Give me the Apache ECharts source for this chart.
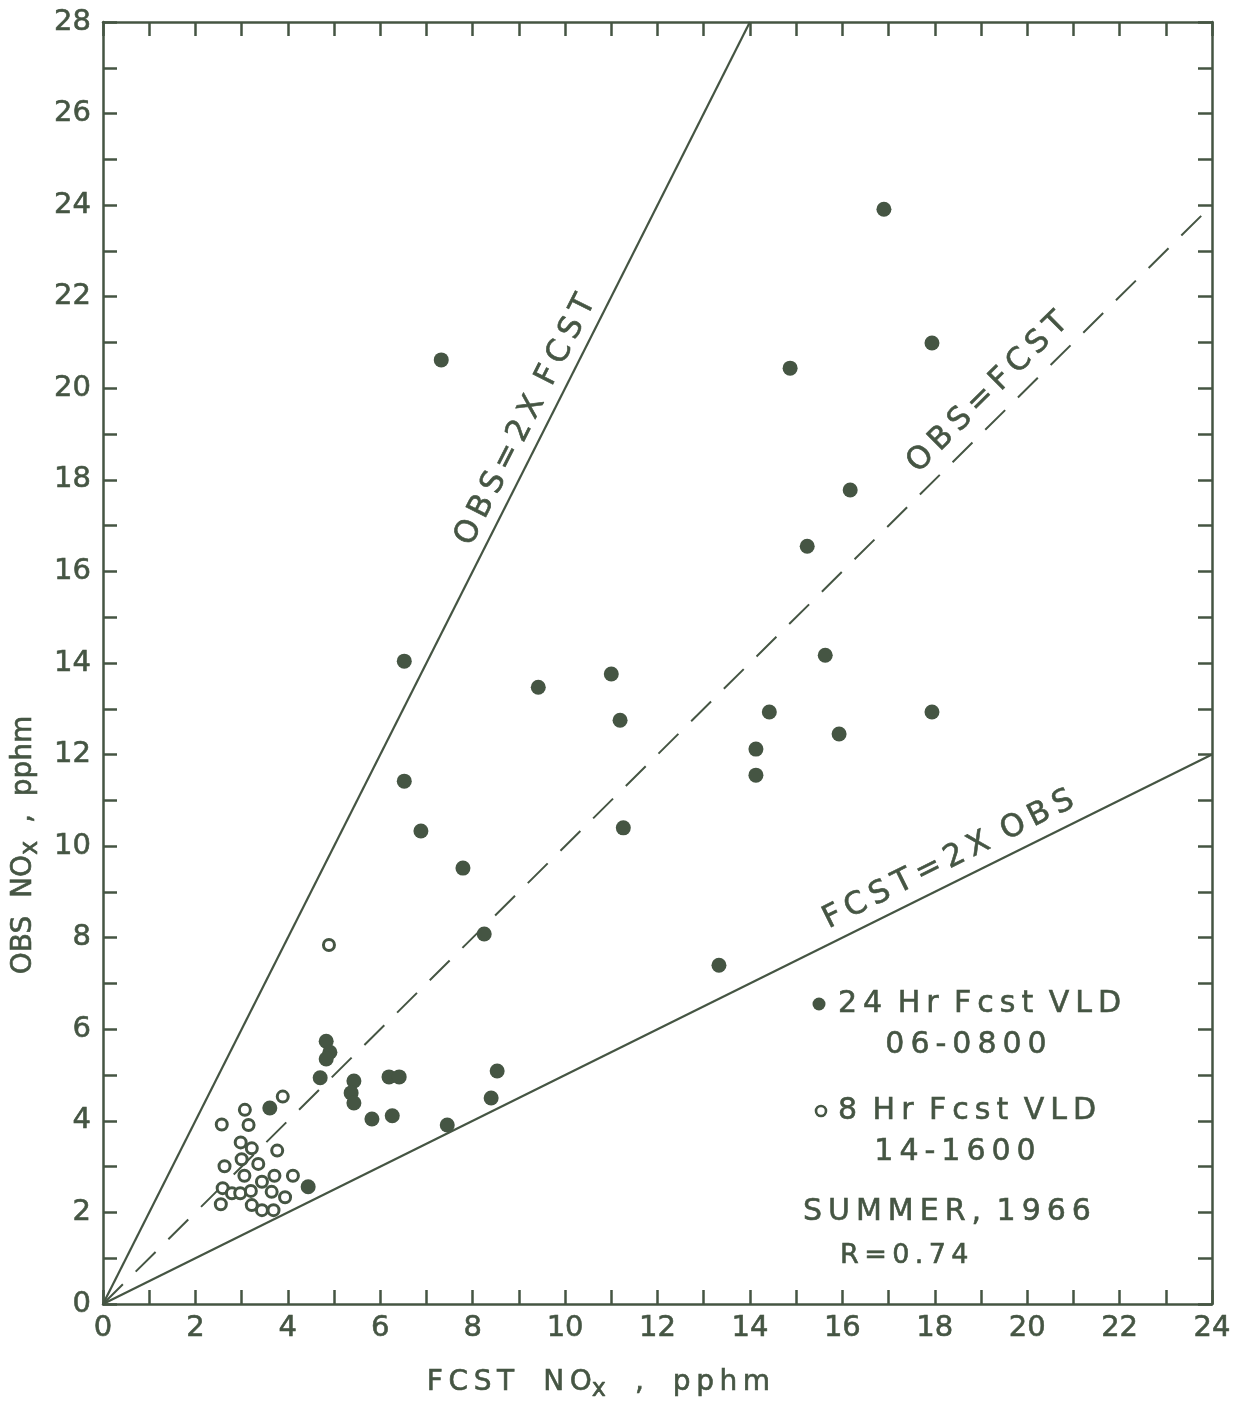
<!DOCTYPE html>
<html>
<head>
<meta charset="utf-8">
<script src="https://cdn.jsdelivr.net/npm/echarts@6/dist/echarts.min.js"></script>
<style>
  html, body { margin: 0; background: #fff; }
  #main { width: 1248px; height: 1402px; }
</style>
</head>
<body>
<div id="main"></div>
<script>
// 24 hr forecast (filled dots)
var fcst24 = [16.9, 7.32, 17.94, 14.87, 16.17, 15.24, 6.52, 15.63, 9.42, 11.0, 11.19, 14.42, 17.94, 14.13, 15.93, 14.13,
              6.52, 6.88, 11.26, 7.79, 8.25, 13.33, 4.83, 4.91, 4.83, 4.70, 5.43, 5.37, 5.43, 6.19, 6.41, 5.82, 6.26,
              8.53, 8.40, 7.45, 3.61, 4.44];
var obs24 = [23.91, 20.62, 20.99, 20.44, 17.78, 16.55, 14.04, 14.17, 13.47, 13.76, 12.75, 12.93, 12.93, 12.12, 12.45, 11.55,
             11.42, 10.33, 10.40, 9.52, 8.08, 7.40, 5.74, 5.50, 5.35, 4.94, 4.87, 4.61, 4.39, 4.96, 4.96, 4.04, 4.11,
             5.09, 4.50, 3.91, 4.28, 2.56];
// 8 hr forecast (open circles)
var fcst8 = [3.89, 3.07, 2.57, 3.15, 2.98, 3.22, 3.77, 3.00, 3.36, 2.63, 3.06, 3.71, 4.11, 3.44, 2.59, 2.79, 2.97,
             3.20, 3.65, 3.94, 2.55, 3.22, 3.44, 3.69, 4.89];
var obs8 = [4.53, 4.24, 3.92, 3.91, 3.53, 3.40, 3.35, 3.16, 3.06, 3.01, 2.80, 2.80, 2.80, 2.67, 2.53, 2.42, 2.42,
            2.47, 2.45, 2.33, 2.18, 2.16, 2.05, 2.05, 7.84];
// reference lines through origin
var line2xFcst = [[0, 0], [14, 28]];
var lineEqual = [[0, 0], [24, 24]];
var line2xObs = [[0, 0], [24, 12]];

var ink = '#455543';
var font = 'DejaVu Sans';

function zip(a, b) {
    var out = [];
    for (var i = 0; i < a.length; i++) out.push([a[i], b[i]]);
    return out;
}
// wide lettering: thin spaces between letters, wider gaps between words
function track(s) {
    return s.split(' ').map(function (w) { return w.split('').join('\u2009'); }).join('\u2009 ');
}

var myChart = echarts.init(document.getElementById('main'));

var tickStyle = { show: true, inside: true, length: 14, lineStyle: { color: ink, width: 2.5 } };
var lineStyle = { show: true, onZero: false, lineStyle: { color: ink, width: 2.5 } };
function nameRich(size) {
    return {
        n: { fontFamily: font, fontSize: size, color: ink, textBorderColor: ink, textBorderWidth: 0.6 },
        s: { fontFamily: font, fontSize: size - 4, color: ink, textBorderColor: ink, textBorderWidth: 0.6, padding: [14, 0, 0, 0] }
    };
}
var labelStyle = {
    color: ink, fontFamily: font, fontSize: 29, textBorderColor: ink, textBorderWidth: 0.6,
    formatter: function (v) { return v % 2 === 0 ? String(v) : ''; }
};

var option = {
    backgroundColor: '#ffffff',
    animation: false,
    grid: { left: 103, right: 36, top: 22, bottom: 98, outerBoundsMode: 'none', containLabel: false },
    xAxis: [{
        type: 'value', min: 0, max: 24, interval: 1, position: 'bottom',
        axisLine: lineStyle, axisTick: tickStyle, splitLine: { show: false },
        axisLabel: Object.assign({ margin: 10 }, labelStyle),
        name: '{n|' + track('FCST  NO') + '}{s|x}{n|' + track('  ,  pphm') + '}',
        nameLocation: 'middle', nameGap: 60,
        nameTextStyle: { rich: nameRich(28), padding: [0, 118, 0, 0] }
    }, {
        type: 'value', min: 0, max: 24, interval: 1, position: 'top',
        axisLine: lineStyle, axisTick: tickStyle, splitLine: { show: false },
        axisLabel: { show: false }
    }],
    yAxis: [{
        type: 'value', min: 0, max: 28, interval: 1, position: 'left',
        axisLine: lineStyle, axisTick: tickStyle, splitLine: { show: false },
        axisLabel: Object.assign({ margin: 12 }, labelStyle),
        name: '{n|OBS  NO}{s|x}{n|  ,  pphm}',
        nameLocation: 'middle', nameGap: 60,
        nameTextStyle: { rich: nameRich(28), padding: [0, 364, 0, 0] }
    }, {
        type: 'value', min: 0, max: 28, interval: 1, position: 'right',
        axisLine: lineStyle, axisTick: tickStyle, splitLine: { show: false },
        axisLabel: { show: false }
    }],
    series: [{
        name: 'OBS=2X FCST', type: 'line', data: line2xFcst, symbol: 'none',
        lineStyle: { color: ink, width: 2.2 }, z: 2
    }, {
        name: 'OBS=FCST', type: 'line', data: lineEqual, symbol: 'none',
        lineStyle: { color: ink, width: 2, type: [28, 18] }, z: 2
    }, {
        name: 'FCST=2X OBS', type: 'line', data: line2xObs, symbol: 'none',
        lineStyle: { color: ink, width: 2.2 }, z: 2
    }, {
        name: '24 Hr Fcst VLD 06-0800', type: 'scatter', data: zip(fcst24, obs24),
        symbol: 'circle', symbolSize: 15, itemStyle: { color: ink, opacity: 1 }, z: 3
    }, {
        name: '8 Hr Fcst VLD 14-1600', type: 'scatter', data: zip(fcst8, obs8),
        symbol: 'circle', symbolSize: 11,
        itemStyle: { color: '#ffffff', borderColor: ink, borderWidth: 3, opacity: 1 }, z: 3
    }]
};
myChart.setOption(option);

// labels along the reference lines and the key text
function px(x, y) { return myChart.convertToPixel({ xAxisIndex: 0, yAxisIndex: 0 }, [x, y]); }
function deg(d) { return d * Math.PI / 180; }
function txt(p, s, rot, size, align) {
    return {
        type: 'text', x: p[0], y: p[1], rotation: rot || 0,
        style: {
            text: s, fill: ink, stroke: ink, lineWidth: 0.6,
            font: (size || 30) + 'px "' + font + '"',
            align: align || 'center', verticalAlign: 'middle',
            textAlign: align || 'center', textVerticalAlign: 'middle'
        }
    };
}

var graphics = [
    txt(px(9.15, 19.3), track('OBS=2X FCST'), deg(63.2), 31),
    txt(px(19.15, 19.9), track('OBS=FCST'), deg(44.7), 31),
    txt(px(18.3, 9.7), track('FCST=2X OBS'), deg(26.4), 31),
    { type: 'circle', shape: { cx: 819, cy: 1004, r: 6.5 }, style: { fill: ink } },
    txt([838, 1004], track('24 Hr Fcst VLD'), 0, 30, 'left'),
    txt([966, 1045], track('06-0800'), 0, 30),
    { type: 'circle', shape: { cx: 821, cy: 1111, r: 5 }, style: { fill: '#fff', stroke: ink, lineWidth: 2.6 } },
    txt([838, 1111], track('8 Hr Fcst VLD'), 0, 30, 'left'),
    txt([955, 1152], track('14-1600'), 0, 30),
    txt([803, 1212], track('SUMMER, 1966'), 0, 30, 'left'),
    txt([840, 1256], track('R=0.74'), 0, 27, 'left')
];
myChart.setOption({ graphic: graphics });
</script>
</body>
</html>
